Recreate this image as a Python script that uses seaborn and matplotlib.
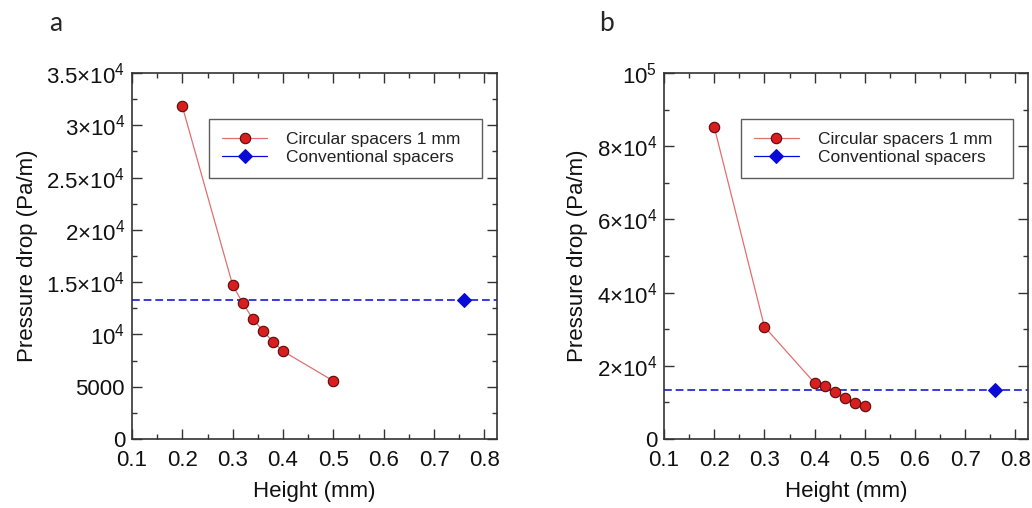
import matplotlib
matplotlib.use('Agg')
import matplotlib.pyplot as plt
from matplotlib.ticker import FixedLocator, FixedFormatter, MultipleLocator
import numpy as np
import pandas as pd
import seaborn as sns

# panel a data
height_a = [0.20, 0.30, 0.32, 0.34, 0.36, 0.38, 0.40, 0.50]
drop_a = [31800, 14700, 13000, 11500, 10350, 9300, 8400, 5550]

# panel b data
height_b = [0.20, 0.30, 0.40, 0.42, 0.44, 0.46, 0.48, 0.50]
drop_b = [85300, 30700, 15300, 14600, 12800, 11100, 9800, 8900]

# conventional spacers (same in both panels)
conv_height = [0.76]
conv_drop = [13300]

yticks_a = [0, 5000, 10000, 15000, 20000, 25000, 30000, 35000]
ylabels_a = ['0', '5000', r'$10^4$', r'$1.5{\times}10^4$', r'$2{\times}10^4$',
             r'$2.5{\times}10^4$', r'$3{\times}10^4$', r'$3.5{\times}10^4$']
yticks_b = [0, 20000, 40000, 60000, 80000, 100000]
ylabels_b = ['0', r'$2{\times}10^4$', r'$4{\times}10^4$', r'$6{\times}10^4$',
             r'$8{\times}10^4$', r'$10^5$']

sns.set_style('ticks')
plt.rcParams['font.family'] = ['Liberation Sans', 'DejaVu Sans']
plt.rcParams['mathtext.fontset'] = 'custom'
plt.rcParams['mathtext.rm'] = 'Liberation Sans'
plt.rcParams['mathtext.it'] = 'Liberation Sans'
plt.rcParams['mathtext.bf'] = 'Liberation Sans'

fig = plt.figure(figsize=(10.32, 5.08), dpi=100)
ax_a = fig.add_axes([0.1279, 0.1358, 0.3537, 0.7205])
ax_b = fig.add_axes([0.6434, 0.1358, 0.3527, 0.7205])

red = '#d81e1e'
blue = '#0a0ad8'


def draw_panel(ax, hx, dy, ymax, yticks, ylabels, yminor, letter, letter_x):
    df = pd.DataFrame({'Height': hx, 'Drop': dy})
    dc = pd.DataFrame({'Height': conv_height, 'Drop': conv_drop})
    sns.lineplot(data=df, x='Height', y='Drop', ax=ax, color='#e07070', lw=0.9,
                 marker='o', markersize=7.5, markerfacecolor=red,
                 markeredgecolor='#5a0a0a', markeredgewidth=0.8,
                 label='Circular spacers 1 mm', zorder=3)
    sns.lineplot(data=dc, x='Height', y='Drop', ax=ax, color=blue, lw=0.9,
                 marker='D', markersize=7, markerfacecolor=blue,
                 markeredgecolor=blue, label='Conventional spacers', zorder=4)
    ax.axhline(conv_drop[0], color='#3a3ae0', lw=1.4, ls=(0, (4, 2)), zorder=2)

    ax.set_xlim(0.1, 0.825)
    ax.set_ylim(0, ymax)
    ax.xaxis.set_major_locator(FixedLocator([0.1, 0.2, 0.3, 0.4, 0.5, 0.6, 0.7, 0.8]))
    ax.xaxis.set_major_formatter(FixedFormatter(['0.1', '0.2', '0.3', '0.4', '0.5', '0.6', '0.7', '0.8']))
    ax.xaxis.set_minor_locator(MultipleLocator(0.05))
    ax.yaxis.set_major_locator(FixedLocator(yticks))
    ax.yaxis.set_major_formatter(FixedFormatter(ylabels))
    ax.yaxis.set_minor_locator(MultipleLocator(yminor))
    ax.tick_params(which='both', direction='in', top=True, right=True,
                   color='#333333', width=1.0)
    ax.tick_params(which='major', length=7, labelsize=16, labelcolor='#111111')
    ax.tick_params(axis='x', which='major', pad=8)
    ax.tick_params(axis='y', which='major', pad=5)
    ax.tick_params(which='minor', length=3.5)
    for s in ax.spines.values():
        s.set_color('#333333')
        s.set_linewidth(1.2)

    ax.set_xlabel('Height (mm)', fontsize=16, color='#111111', labelpad=7)
    ax.set_ylabel('Pressure drop (Pa/m)', fontsize=16, color='#111111', labelpad=6)

    leg = ax.legend(loc='upper left', bbox_to_anchor=(0.211, 0.716, 0.749, 0.158),
                    mode='expand', fontsize=12.5, frameon=True, fancybox=False,
                    handlelength=2.6, handletextpad=1.1, borderpad=0.75,
                    labelspacing=0.15, borderaxespad=0)
    leg.get_frame().set_edgecolor('#333333')
    leg.get_frame().set_linewidth(1.0)
    for t in leg.get_texts():
        t.set_color('#222222')

    ax.text(letter_x, 1.135, letter, transform=ax.transAxes, fontsize=19,
            family=['Lato', 'DejaVu Sans'], ha='center', va='center')


draw_panel(ax_a, height_a, drop_a, 35000, yticks_a, ylabels_a, 2500, 'a', -0.208)
draw_panel(ax_b, height_b, drop_b, 100000, yticks_b, ylabels_b, 10000, 'b', -0.159)

fig.savefig('out.png', dpi=100, facecolor='white')
